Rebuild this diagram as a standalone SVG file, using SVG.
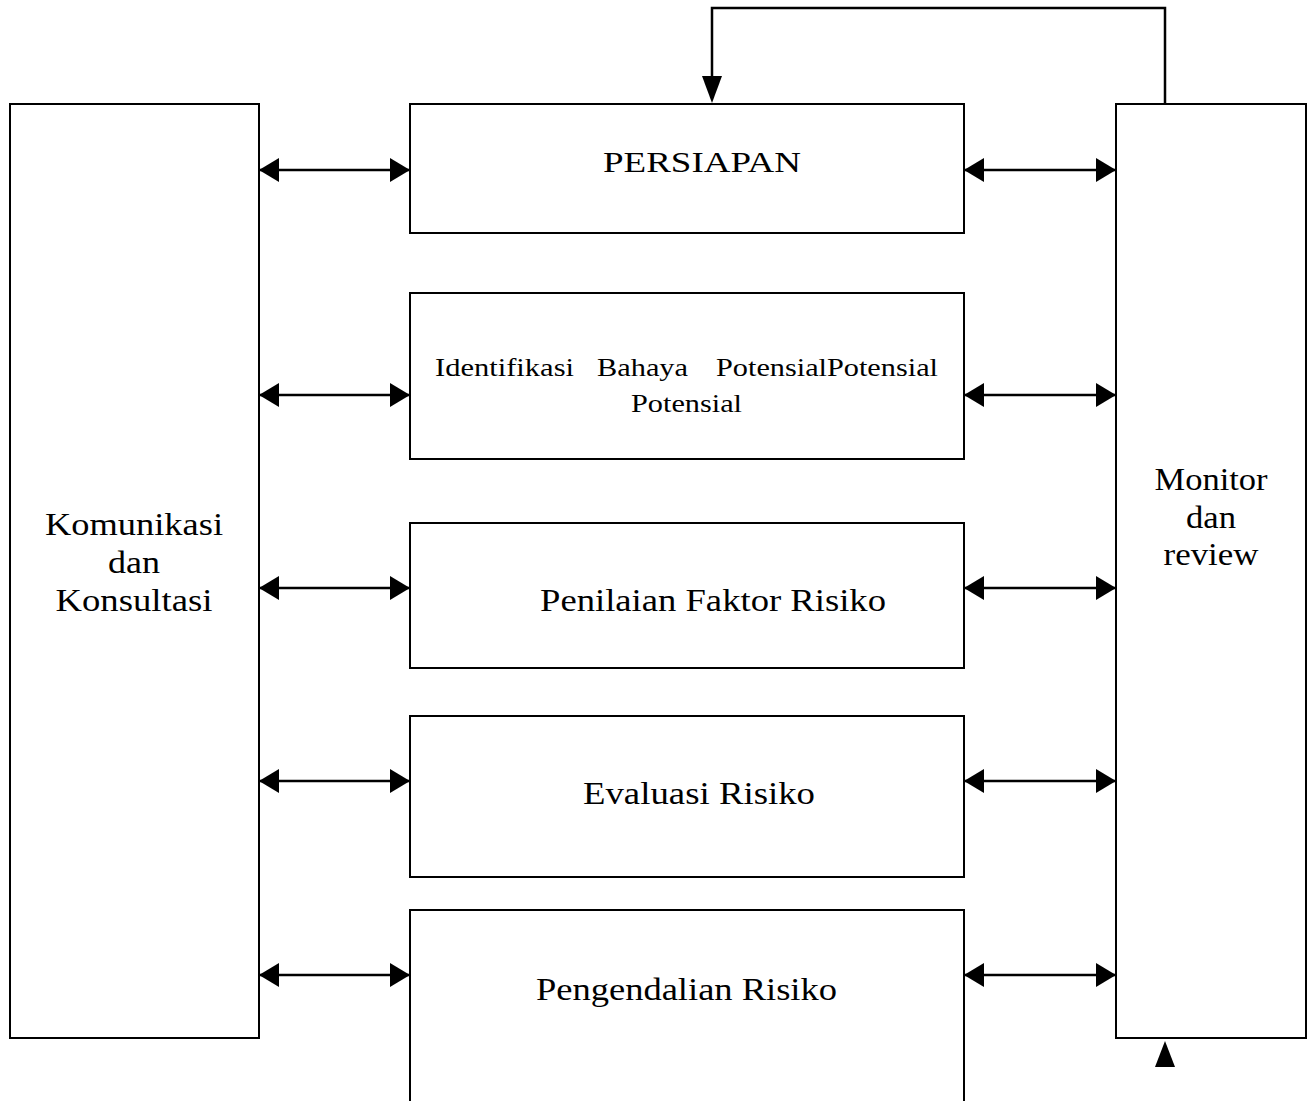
<svg xmlns="http://www.w3.org/2000/svg" width="1311" height="1101" viewBox="0 0 1311 1101">
<style>
.box{fill:#fff;stroke:#000;stroke-width:2}
.ln{fill:none;stroke:#000;stroke-width:2.5}
.t{font-family:"Liberation Serif","Times New Roman",serif;fill:#000}
</style>
<defs>
<marker id="ah" markerWidth="20" markerHeight="24" refX="20" refY="12" orient="auto-start-reverse" markerUnits="userSpaceOnUse">
<path d="M0,0 L20,12 L0,24 Z" fill="#000"/>
</marker>
</defs>
<rect width="1311" height="1101" fill="#fff"/>
<g id="komunikasi">
<rect class="box" x="10" y="104" width="249" height="934"/>
<text class="t" font-size="32" text-anchor="middle" x="134" y="535" textLength="178" lengthAdjust="spacingAndGlyphs">Komunikasi</text>
<text class="t" font-size="32" text-anchor="middle" x="134" y="573" textLength="52" lengthAdjust="spacingAndGlyphs">dan</text>
<text class="t" font-size="32" text-anchor="middle" x="134" y="611" textLength="157" lengthAdjust="spacingAndGlyphs">Konsultasi</text>
</g>
<g id="monitor">
<rect class="box" x="1116" y="104" width="190" height="934"/>
<text class="t" font-size="32" text-anchor="middle" x="1211" y="490" textLength="113" lengthAdjust="spacingAndGlyphs">Monitor</text>
<text class="t" font-size="32" text-anchor="middle" x="1211" y="528" textLength="50" lengthAdjust="spacingAndGlyphs">dan</text>
<text class="t" font-size="32" text-anchor="middle" x="1211" y="565" textLength="95" lengthAdjust="spacingAndGlyphs">review</text>
</g>
<g id="persiapan">
<rect class="box" x="410" y="104" width="554" height="129"/>
<text class="t" font-size="29" x="603" y="172" textLength="198" lengthAdjust="spacingAndGlyphs">PERSIAPAN</text>
</g>
<g id="identifikasi">
<rect class="box" x="410" y="293" width="554" height="166"/>
<text class="t" font-size="26" x="435" y="376" textLength="139" lengthAdjust="spacingAndGlyphs">Identifikasi</text>
<text class="t" font-size="26" x="597" y="376" textLength="91" lengthAdjust="spacingAndGlyphs">Bahaya</text>
<text class="t" font-size="26" x="716" y="376" textLength="222" lengthAdjust="spacingAndGlyphs">PotensialPotensial</text>
<text class="t" font-size="26" x="631" y="412" textLength="111" lengthAdjust="spacingAndGlyphs">Potensial</text>
</g>
<g id="penilaian">
<rect class="box" x="410" y="523" width="554" height="145"/>
<text class="t" font-size="32" x="540" y="611" textLength="346" lengthAdjust="spacingAndGlyphs">Penilaian Faktor Risiko</text>
</g>
<g id="evaluasi">
<rect class="box" x="410" y="716" width="554" height="161"/>
<text class="t" font-size="32" x="583" y="804" textLength="232" lengthAdjust="spacingAndGlyphs">Evaluasi Risiko</text>
</g>
<g id="pengendalian">
<rect class="box" x="410" y="910" width="554" height="210"/>
<text class="t" font-size="32" x="536" y="1000" textLength="301" lengthAdjust="spacingAndGlyphs">Pengendalian Risiko</text>
</g>
<g id="connectors">
<line class="ln" x1="259" y1="170" x2="410" y2="170" marker-start="url(#ah)" marker-end="url(#ah)"/>
<line class="ln" x1="964" y1="170" x2="1116" y2="170" marker-start="url(#ah)" marker-end="url(#ah)"/>
<line class="ln" x1="259" y1="395" x2="410" y2="395" marker-start="url(#ah)" marker-end="url(#ah)"/>
<line class="ln" x1="964" y1="395" x2="1116" y2="395" marker-start="url(#ah)" marker-end="url(#ah)"/>
<line class="ln" x1="259" y1="588" x2="410" y2="588" marker-start="url(#ah)" marker-end="url(#ah)"/>
<line class="ln" x1="964" y1="588" x2="1116" y2="588" marker-start="url(#ah)" marker-end="url(#ah)"/>
<line class="ln" x1="259" y1="781" x2="410" y2="781" marker-start="url(#ah)" marker-end="url(#ah)"/>
<line class="ln" x1="964" y1="781" x2="1116" y2="781" marker-start="url(#ah)" marker-end="url(#ah)"/>
<line class="ln" x1="259" y1="975" x2="410" y2="975" marker-start="url(#ah)" marker-end="url(#ah)"/>
<line class="ln" x1="964" y1="975" x2="1116" y2="975" marker-start="url(#ah)" marker-end="url(#ah)"/>
<polyline class="ln" points="1165,104 1165,8 712,8 712,80"/>
<path d="M702,76 L722,76 L712,103 Z" fill="#000"/>
<path d="M1155,1067 L1175,1067 L1165,1041 Z" fill="#000"/>
</g>
</svg>
